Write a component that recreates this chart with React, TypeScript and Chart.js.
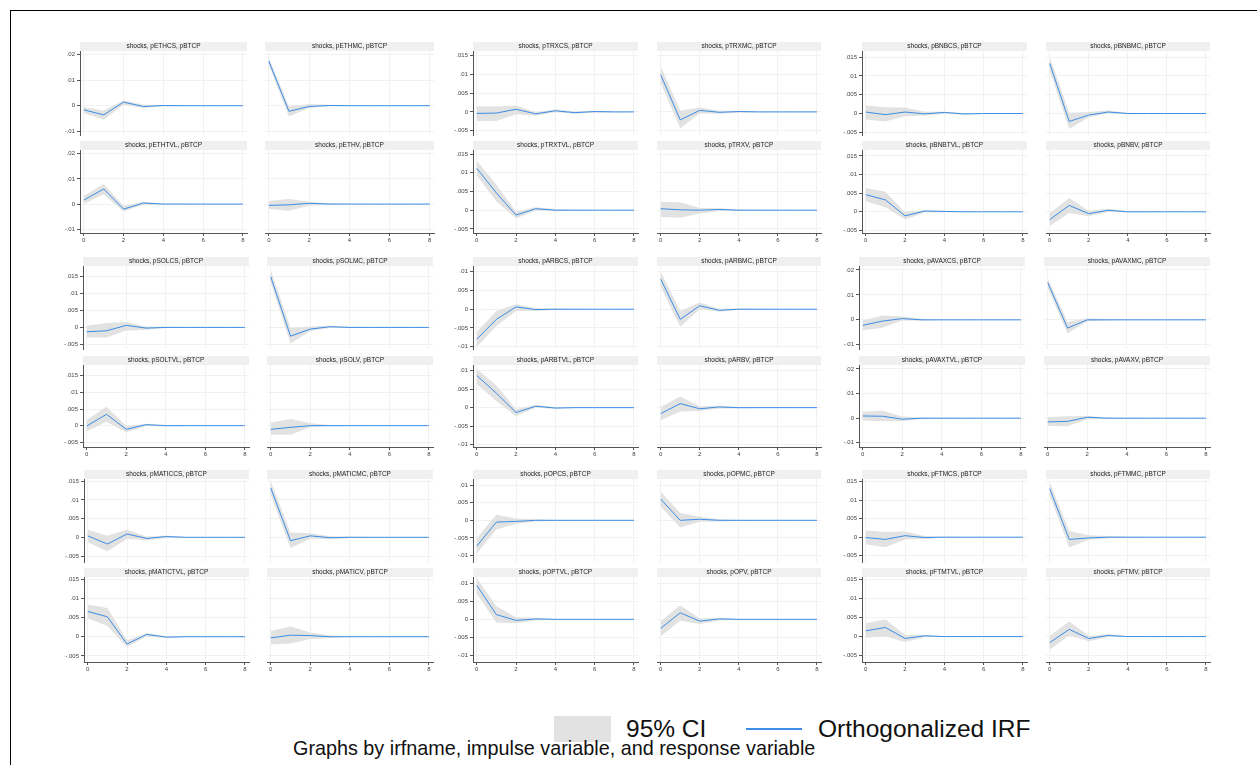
import React, { useEffect, useRef } from "react";
import { Chart, registerables } from "chart.js";

Chart.register(...registerables);

// ---------------- DATA ----------------
const irfName = "shocks";
const responseVar = "pBTCP";
const horizons = [0, 1, 2, 3, 4, 5, 6, 7, 8];
const xTickValues = [0, 2, 4, 6, 8];

// order: groups ETH, TRX, BNB, SOL, ARB, AVAX, MATIC, OP, FTM ; each CS, MC, TVL, V
const impulseVars = [
  "pETHCS", "pETHMC", "pETHTVL", "pETHV",
  "pTRXCS", "pTRXMC", "pTRXTVL", "pTRXV",
  "pBNBCS", "pBNBMC", "pBNBTVL", "pBNBV",
  "pSOLCS", "pSOLMC", "pSOLTVL", "pSOLV",
  "pARBCS", "pARBMC", "pARBTVL", "pARBV",
  "pAVAXCS", "pAVAXMC", "pAVAXTVL", "pAVAXV",
  "pMATICCS", "pMATICMC", "pMATICTVL", "pMATICV",
  "pOPCS", "pOPMC", "pOPTVL", "pOPV",
  "pFTMCS", "pFTMMC", "pFTMTVL", "pFTMV",
];

const irfValues = [
  [-0.0016, -0.0036, 0.0014, -0.0003, 0.0001, 0, 0, 0, 0],
  [0.0175, -0.0022, -0.0003, 0.0001, 0, 0, 0, 0, 0],
  [0.0016, 0.006, -0.002, 0.0004, 0, 0, 0, 0, 0],
  [-0.0005, -0.0003, 0.0003, 0, 0, 0, 0, 0, 0],
  [-0.0004, -0.0003, 0.0007, -0.0005, 0.0003, -0.0002, 0.0001, 0, 0],
  [0.0098, -0.0021, 0.0004, -0.0001, 0.0001, 0, 0, 0, 0],
  [0.0112, 0.0046, -0.0013, 0.0004, 0, 0, 0, 0, 0],
  [0.0004, 0.0001, 0, 0.0002, 0, 0, 0, 0, 0],
  [0.0004, -0.0003, 0.0004, -0.0001, 0.0003, -0.0001, 0, 0, 0],
  [0.0133, -0.0021, -0.0004, 0.0004, 0, 0, 0, 0, 0],
  [0.0046, 0.0032, -0.0011, 0.0002, 0.0001, 0, 0, 0, 0],
  [-0.0021, 0.0017, -0.0005, 0.0004, 0, 0, 0, 0, 0],
  [-0.0013, -0.001, 0.0006, -0.0002, 0, 0, 0, 0, 0],
  [0.015, -0.0026, -0.0005, 0.0002, 0, 0, 0, 0, 0],
  [-0.0001, 0.0034, -0.0011, 0.0003, 0, 0, 0, 0, 0],
  [-0.0011, -0.0005, 0, 0, 0, 0, 0, 0, 0],
  [-0.008, -0.0027, 0.0006, -0.0001, 0, 0, 0, 0, 0],
  [0.008, -0.0027, 0.0009, -0.0003, 0, 0, 0, 0, 0],
  [0.0087, 0.0039, -0.0013, 0.0004, -0.0001, 0, 0, 0, 0],
  [-0.0016, 0.0011, -0.0003, 0.0002, 0, 0, 0, 0, 0],
  [-0.0022, -0.0005, 0.0005, 0, 0, 0, 0, 0, 0],
  [0.0149, -0.0033, 0, 0, 0, 0, 0, 0, 0],
  [0.0009, 0.0008, -0.0004, 0, 0, 0, 0, 0, 0],
  [-0.0015, -0.0013, 0.0004, 0, 0, 0, 0, 0, 0],
  [0.0004, -0.0018, 0.0009, -0.0003, 0.0002, 0, 0, 0, 0],
  [0.0132, -0.0009, 0.0004, -0.0001, 0, 0, 0, 0, 0],
  [0.0066, 0.0052, -0.0019, 0.0006, -0.0001, 0, 0, 0, 0],
  [-0.0003, 0.0004, 0.0003, 0, 0, 0, 0, 0, 0],
  [-0.0073, -0.0005, -0.0003, 0, 0, 0, 0, 0, 0],
  [0.006, 0, 0.0003, 0, 0, 0, 0, 0, 0],
  [0.0094, 0.0013, -0.0003, 0.0001, 0, 0, 0, 0, 0],
  [-0.0025, 0.0018, -0.0005, 0.0001, 0, 0, 0, 0, 0],
  [-0.0001, -0.0006, 0.0004, -0.0001, 0, 0, 0, 0, 0],
  [0.0131, -0.0006, -0.0002, 0, 0, 0, 0, 0, 0],
  [0.0015, 0.0024, -0.0005, 0.0002, 0, 0, 0, 0, 0],
  [-0.0016, 0.0019, -0.0005, 0.0003, 0, 0, 0, 0, 0],
];

const ciLower = [
  [-0.0029, -0.0055, 0.0004, -0.0009, -0.0003, -0.0001, 0, 0, 0],
  [0.0159, -0.0042, -0.0009, -0.0002, -0.0001, 0, 0, 0, 0],
  [0, 0.0039, -0.003, -0.0003, -0.0002, -0.0001, 0, 0, 0],
  [-0.002, -0.0027, -0.0007, -0.0003, -0.0001, 0, 0, 0, 0],
  [-0.0024, -0.0024, -0.0006, -0.001, -0.0001, -0.0005, -0.0002, -0.0001, 0],
  [0.0076, -0.0043, -0.0004, -0.0005, -0.0002, -0.0001, 0, 0, 0],
  [0.0093, 0.0024, -0.0022, -0.0001, -0.0003, -0.0001, 0, 0, 0],
  [-0.0018, -0.002, -0.0009, -0.0002, -0.0002, -0.0001, 0, 0, 0],
  [-0.0016, -0.0021, -0.0007, -0.0005, -0.0001, -0.0003, -0.0001, 0, 0],
  [0.0113, -0.0041, -0.001, 0, -0.0002, -0.0001, 0, 0, 0],
  [0.0028, 0.0012, -0.0021, -0.0002, -0.0001, -0.0001, 0, 0, 0],
  [-0.0038, -0.0003, -0.0012, 0, -0.0002, -0.0001, 0, 0, 0],
  [-0.003, -0.003, -0.0009, -0.0007, -0.0002, -0.0001, 0, 0, 0],
  [0.0133, -0.0048, -0.0011, -0.0002, -0.0002, -0.0001, 0, 0, 0],
  [-0.0017, 0.0012, -0.002, -0.0001, -0.0002, -0.0001, 0, 0, 0],
  [-0.0027, -0.0027, -0.0005, -0.0002, -0.0001, 0, 0, 0, 0],
  [-0.0101, -0.0045, -0.0005, -0.0005, -0.0002, -0.0001, 0, 0, 0],
  [0.006, -0.0047, 0, -0.0007, -0.0002, -0.0001, 0, 0, 0],
  [0.0064, 0.0018, -0.0023, 0, -0.0003, -0.0001, 0, 0, 0],
  [-0.0034, -0.001, -0.0009, -0.0002, -0.0002, -0.0001, 0, 0, 0],
  [-0.0042, -0.0032, -0.0003, -0.0004, -0.0001, 0, 0, 0, 0],
  [0.0129, -0.0055, -0.0006, -0.0003, -0.0001, 0, 0, 0, 0],
  [-0.0009, -0.0012, -0.0012, -0.0003, -0.0001, 0, 0, 0, 0],
  [-0.0032, -0.0033, -0.0004, -0.0003, -0.0001, 0, 0, 0, 0],
  [-0.0013, -0.0037, -0.0004, -0.0008, -0.0002, -0.0001, 0, 0, 0],
  [0.0114, -0.0029, -0.0003, -0.0005, -0.0002, -0.0001, 0, 0, 0],
  [0.0048, 0.0028, -0.0027, 0.0001, -0.0003, -0.0001, 0, 0, 0],
  [-0.002, -0.0018, -0.0006, -0.0003, -0.0001, 0, 0, 0, 0],
  [-0.0093, -0.0026, -0.001, -0.0003, -0.0001, 0, 0, 0, 0],
  [0.0039, -0.002, -0.0004, -0.0003, -0.0001, 0, 0, 0, 0],
  [0.0071, -0.0009, -0.0011, -0.0003, -0.0001, 0, 0, 0, 0],
  [-0.0047, -0.0004, -0.0013, -0.0003, -0.0001, 0, 0, 0, 0],
  [-0.0019, -0.0027, -0.0006, -0.0005, -0.0001, 0, 0, 0, 0],
  [0.0112, -0.0028, -0.0007, -0.0003, -0.0001, 0, 0, 0, 0],
  [-0.0003, 0.0001, -0.0014, -0.0002, -0.0001, 0, 0, 0, 0],
  [-0.0035, 0.0003, -0.0012, -0.0001, -0.0001, 0, 0, 0, 0],
];

const ciUpper = [
  [-0.0005, -0.002, 0.0022, 0.0004, 0.0003, 0.0001, 0, 0, 0],
  [0.019, -0.0003, 0.0007, 0.0004, 0.0001, 0, 0, 0, 0],
  [0.0032, 0.008, -0.0008, 0.0009, 0.0002, 0.0001, 0, 0, 0],
  [0.0012, 0.002, 0.0009, 0.0003, 0.0001, 0, 0, 0, 0],
  [0.0015, 0.0014, 0.0017, -0.0001, 0.0007, 0.0001, 0.0003, 0.0001, 0],
  [0.012, 0.0003, 0.0012, 0.0003, 0.0003, 0.0001, 0, 0, 0],
  [0.0132, 0.0068, -0.0004, 0.0008, 0.0003, 0.0001, 0, 0, 0],
  [0.0022, 0.0021, 0.0006, 0.0005, 0.0002, 0.0001, 0, 0, 0],
  [0.0021, 0.0017, 0.0016, 0.0005, 0.0005, 0.0001, 0.0001, 0, 0],
  [0.0151, 0.0002, 0.0004, 0.0008, 0.0002, 0.0001, 0, 0, 0],
  [0.0064, 0.0054, -0.0001, 0.0005, 0.0003, 0.0001, 0, 0, 0],
  [-0.0003, 0.0037, 0.0003, 0.0008, 0.0002, 0.0001, 0, 0, 0],
  [0.0005, 0.0013, 0.0016, 0.0003, 0.0002, 0.0001, 0, 0, 0],
  [0.017, -0.0002, 0.0003, 0.0005, 0.0002, 0.0001, 0, 0, 0],
  [0.0017, 0.0057, -0.0001, 0.0006, 0.0002, 0.0001, 0, 0, 0],
  [0.0009, 0.002, 0.0007, 0.0002, 0.0001, 0, 0, 0, 0],
  [-0.0061, -0.0005, 0.0013, 0.0003, 0.0002, 0.0001, 0, 0, 0],
  [0.01, -0.0005, 0.0018, 0.0001, 0.0002, 0.0001, 0, 0, 0],
  [0.0104, 0.006, -0.0004, 0.0008, 0.0001, 0.0001, 0, 0, 0],
  [0.0002, 0.003, 0.0004, 0.0005, 0.0002, 0.0001, 0, 0, 0],
  [-0.0003, 0.0017, 0.0013, 0.0004, 0.0001, 0, 0, 0, 0],
  [0.0168, -0.0009, 0.0006, 0.0003, 0.0001, 0, 0, 0, 0],
  [0.0026, 0.003, 0.0007, 0.0003, 0.0001, 0, 0, 0, 0],
  [0.0004, 0.0008, 0.0009, 0.0003, 0.0001, 0, 0, 0, 0],
  [0.002, 0.0004, 0.002, 0.0002, 0.0005, 0.0001, 0, 0, 0],
  [0.015, 0.0013, 0.0011, 0.0003, 0.0002, 0.0001, 0, 0, 0],
  [0.0084, 0.0075, -0.0009, 0.001, 0.0001, 0.0001, 0, 0, 0],
  [0.0015, 0.0027, 0.0011, 0.0003, 0.0001, 0, 0, 0, 0],
  [-0.0051, 0.0016, 0.0005, 0.0003, 0.0001, 0, 0, 0, 0],
  [0.0081, 0.0021, 0.001, 0.0003, 0.0001, 0, 0, 0, 0],
  [0.0114, 0.0036, 0.0006, 0.0004, 0.0001, 0, 0, 0, 0],
  [-0.0005, 0.0039, 0.0002, 0.0004, 0.0001, 0, 0, 0, 0],
  [0.0018, 0.0014, 0.0015, 0.0003, 0.0001, 0, 0, 0, 0],
  [0.0149, 0.0017, 0.0005, 0.0003, 0.0001, 0, 0, 0, 0],
  [0.0035, 0.0045, 0.0004, 0.0005, 0.0001, 0, 0, 0, 0],
  [0.0002, 0.004, 0.0002, 0.0006, 0.0001, 0, 0, 0, 0],
];

// y tick labels per group (one group = 2x2 panels sharing a y axis)
const ticksWide = [-0.01, 0, 0.01, 0.02];
const ticksMid = [-0.005, 0, 0.005, 0.01, 0.015];
const ticksSym = [-0.01, -0.005, 0, 0.005, 0.01];
const groupYTicks = [ticksWide, ticksMid, ticksMid, ticksMid, ticksSym, ticksWide, ticksMid, ticksSym, ticksMid];
const groupYMin = [-0.0115, -0.0061, -0.0057, -0.0064, -0.0106, -0.0117, -0.0066, -0.0118, -0.0067];
const groupYMax = [0.0215, 0.0161, 0.0166, 0.0182, 0.0115, 0.0216, 0.0156, 0.0117, 0.0157];

const legendLabels = ["95% CI", "Orthogonalized IRF"];
const captionText = "Graphs by irfname, impulse variable, and response variable";

// ---------------- LAYOUT / STYLE ----------------
const FONT = '"Liberation Sans", Arial, Helvetica, sans-serif';
const CI_COLOR = "#e2e2e2";
const LINE_COLOR = "#3b8de6";
const GRID_COLOR = "#f1f1f1";
const AXIS_COLOR = "#555555";
const TEXT_COLOR = "#444444";
const STRIP_COLOR = "#f0f0f0";

// [col1Left, col1Right, col2Left, col2Right] per group
const groupCols = [
  [80, 247, 265, 434],
  [473, 638, 657, 821],
  [862, 1027, 1046, 1210],
  [83, 249, 267, 433],
  [473, 638, 657, 821],
  [859, 1025, 1044, 1210],
  [84, 249, 267, 433],
  [473, 638, 657, 821],
  [862, 1027, 1046, 1210],
];
// [titleTop row1, plotBottom row1, titleTop row2, plotBottom row2] per group-row
const groupRows = [
  [42, 135, 141, 233],
  [257, 349, 356, 447],
  [470, 562, 568, 662],
];
const STRIP_H = 9;
const GUTTER = 30;
const RIGHT_PAD = 6;

const fmtTick = (v: number) => {
  if (Math.abs(v) < 1e-12) return "0";
  const s = String(+v.toFixed(4));
  return s.replace(/^(-?)0\./, "$1.");
};

const stripPlugin = {
  id: "strip",
  beforeDraw(chart: any, _args: any, opts: any) {
    const { ctx, chartArea } = chart;
    ctx.save();
    ctx.fillStyle = STRIP_COLOR;
    ctx.fillRect(chartArea.left, chartArea.top - STRIP_H, chartArea.right - chartArea.left, STRIP_H);
    ctx.fillStyle = "#222222";
    ctx.font = `6.5px ${FONT}`;
    ctx.textAlign = "center";
    ctx.textBaseline = "middle";
    ctx.fillText(opts.text, (chartArea.left + chartArea.right) / 2, chartArea.top - STRIP_H / 2);
    ctx.restore();
  },
};

type PanelProps = {
  idx: number;
  group: number;
  showY: boolean;
  showX: boolean;
  left: number;
  right: number;
  titleTop: number;
  plotBottom: number;
};

function Panel({ idx, group, showY, showX, left, right, titleTop, plotBottom }: PanelProps) {
  const ref = useRef<HTMLCanvasElement | null>(null);
  const plotTop = titleTop + STRIP_H;
  const w = GUTTER + (right - left) + RIGHT_PAD;
  const bottomExtra = showX ? 16 : 6;
  const cLeft = left - GUTTER;
  const cTop = titleTop - 1;
  const h = (plotTop - cTop) + (plotBottom - plotTop) + bottomExtra;

  useEffect(() => {
    if (!ref.current) return;
    const toPts = (arr: number[]) => horizons.map((x, i) => ({ x, y: arr[i] }));
    const yTicks = groupYTicks[group];
    const chart = new Chart(ref.current, {
      type: "line",
      data: {
        datasets: [
          {
            label: "upper",
            data: toPts(ciUpper[idx]),
            borderWidth: 0,
            borderColor: "rgba(0,0,0,0)",
            pointRadius: 0,
            fill: false,
            tension: 0,
            order: 3,
          },
          {
            label: legendLabels[0],
            data: toPts(ciLower[idx]),
            borderWidth: 0,
            borderColor: "rgba(0,0,0,0)",
            backgroundColor: CI_COLOR,
            pointRadius: 0,
            fill: "-1",
            tension: 0,
            order: 2,
          },
          {
            label: legendLabels[1],
            data: toPts(irfValues[idx]),
            borderColor: LINE_COLOR,
            borderWidth: 1,
            pointRadius: 0,
            fill: false,
            tension: 0,
            order: 0,
          },
        ],
      },
      options: {
        responsive: false,
        animation: false,
        devicePixelRatio: 1,
        events: [],
        layout: { padding: { top: plotTop - cTop, right: RIGHT_PAD, bottom: showX ? 0 : 6, left: 0 } },
        plugins: {
          legend: { display: false },
          tooltip: { enabled: false },
          title: { display: false },
          filler: { drawTime: "beforeDatasetsDraw" },
          strip: { text: `${irfName}, ${impulseVars[idx]}, ${responseVar}` },
        } as any,
        scales: {
          x: {
            type: "linear",
            min: -0.19,
            max: 8.21,
            afterBuildTicks: (s: any) => {
              s.ticks = xTickValues.map((v) => ({ value: v }));
            },
            afterFit: (s: any) => {
              s.height = showX ? 16 : 0;
            },
            grid: {
              color: GRID_COLOR,
              lineWidth: 1,
              drawTicks: showX,
              tickLength: 3,
              tickColor: AXIS_COLOR,
              tickWidth: 1,
            },
            border: { display: showX, color: AXIS_COLOR, width: 1 },
            ticks: {
              display: showX,
              autoSkip: false,
              maxRotation: 0,
              padding: 1,
              color: TEXT_COLOR,
              font: { size: 6, family: FONT },
              callback: (v: any) => String(v),
            },
          },
          y: {
            type: "linear",
            min: groupYMin[group],
            max: groupYMax[group],
            afterBuildTicks: (s: any) => {
              s.ticks = yTicks.map((v) => ({ value: v }));
            },
            afterFit: (s: any) => {
              s.width = GUTTER;
            },
            grid: {
              color: GRID_COLOR,
              lineWidth: 1,
              drawTicks: showY,
              tickLength: 3,
              tickColor: AXIS_COLOR,
              tickWidth: 1,
            },
            border: { display: showY, color: AXIS_COLOR, width: 1 },
            ticks: {
              display: showY,
              autoSkip: false,
              padding: 2,
              color: TEXT_COLOR,
              font: { size: 6, family: FONT },
              callback: (v: any) => fmtTick(Number(v)),
            },
          },
        },
      } as any,
      plugins: [stripPlugin as any],
    });
    return () => chart.destroy();
  }, []);

  return (
    <canvas
      ref={ref}
      width={w}
      height={h}
      style={{ position: "absolute", left: cLeft, top: cTop, width: w, height: h }}
    />
  );
}

export default function App() {
  const panels: React.ReactNode[] = [];
  for (let g = 0; g < 9; g++) {
    const rows = groupRows[Math.floor(g / 3)];
    const cols = groupCols[g];
    for (let p = 0; p < 4; p++) {
      const pr = Math.floor(p / 2);
      const pc = p % 2;
      const idx = g * 4 + p;
      panels.push(
        <Panel
          key={idx}
          idx={idx}
          group={g}
          showY={pc === 0}
          showX={pr === 1}
          left={cols[pc * 2]}
          right={cols[pc * 2 + 1]}
          titleTop={rows[pr * 2]}
          plotBottom={rows[pr * 2 + 1]}
        />
      );
    }
  }

  return (
    <div style={{ position: "fixed", inset: 0, overflow: "hidden", background: "#ffffff" }}>
      <div
        style={{
          position: "absolute",
          left: 10,
          top: 10,
          width: 1400,
          height: 900,
          borderLeft: "1px solid #000",
          borderTop: "1px solid #000",
        }}
      />
      {panels}
      <div style={{ position: "absolute", left: 554, top: 716, width: 57, height: 26, background: CI_COLOR }} />
      <div
        style={{
          position: "absolute",
          left: 626,
          top: 717,
          fontFamily: FONT,
          fontSize: 24.5,
          lineHeight: "24.5px",
          color: "#111",
          whiteSpace: "nowrap",
        }}
      >
        {legendLabels[0]}
      </div>
      <div style={{ position: "absolute", left: 746, top: 728, width: 56, height: 2, background: LINE_COLOR }} />
      <div
        style={{
          position: "absolute",
          left: 818,
          top: 717,
          fontFamily: FONT,
          fontSize: 24.5,
          lineHeight: "24.5px",
          color: "#111",
          whiteSpace: "nowrap",
        }}
      >
        {legendLabels[1]}
      </div>
      <div
        style={{
          position: "absolute",
          left: 293,
          top: 739,
          fontFamily: FONT,
          fontSize: 19.8,
          lineHeight: "19.8px",
          color: "#111",
          whiteSpace: "nowrap",
        }}
      >
        {captionText}
      </div>
    </div>
  );
}
